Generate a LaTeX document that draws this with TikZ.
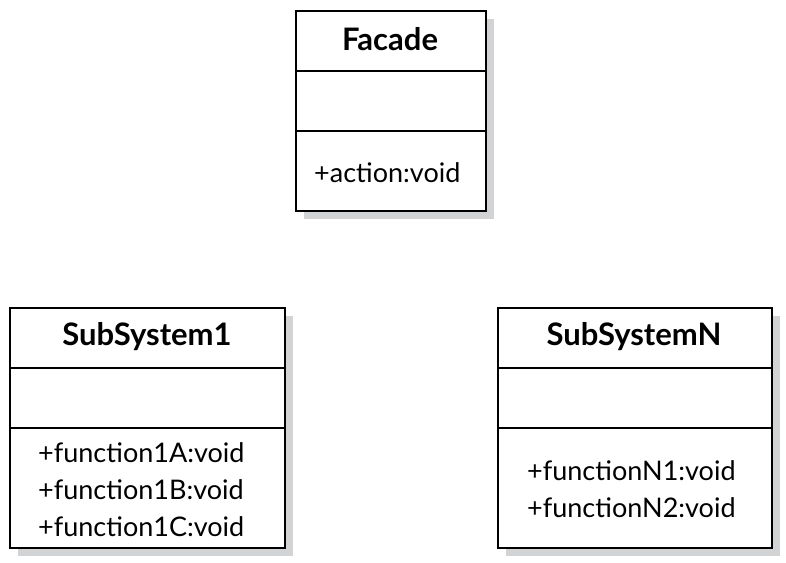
\documentclass[tikz,border=0pt]{standalone}
\usepackage{fontspec}
\setmainfont{Lato}
\usetikzlibrary{shadows}
\definecolor{shadowgray}{HTML}{D2D3D5}
\tikzset{
  classbox/.style={draw=black, line width=1.6pt, fill=white, anchor=north west,
    inner sep=0pt, drop shadow={shadow xshift=8pt, shadow yshift=-8pt, fill=shadowgray, opacity=1}},
  divider/.style={draw=black, line width=1.6pt},
  classtitle/.style={anchor=base, inner sep=0pt, font=\fontsize{31}{36}\selectfont\bfseries},
  member/.style={anchor=base west, inner sep=0pt, font=\fontsize{27}{32}\selectfont}
}
\begin{document}
\begin{tikzpicture}[x=1pt,y=-1pt]
\useasboundingbox (0,0) rectangle (786,562);
% Facade
\node[classbox, minimum width=190pt, minimum height=200pt] (facade) at (295,10) {};
\draw[divider] (facade.west |- 0,71) -- (facade.east |- 0,71);
\draw[divider] (facade.west |- 0,131) -- (facade.east |- 0,131);
\node[classtitle] (facadeT) at (390,50) {Facade};
\node[member] (facadeM) at (314,182) {+action:void};
% SubSystem1
\node[classbox, minimum width=275pt, minimum height=240pt] (sub1) at (9,307) {};
\draw[divider] (sub1.west |- 0,368) -- (sub1.east |- 0,368);
\draw[divider] (sub1.west |- 0,428) -- (sub1.east |- 0,428);
\node[classtitle] (sub1T) at (147,345) {SubSystem1};
\node[member] (sub1A) at (38,462) {+function1A:void};
\node[member] (sub1B) at (38,499) {+function1B:void};
\node[member] (sub1C) at (38,536) {+function1C:void};
% SubSystemN
\node[classbox, minimum width=274pt, minimum height=240pt] (subN) at (497,307) {};
\draw[divider] (subN.west |- 0,368) -- (subN.east |- 0,368);
\draw[divider] (subN.west |- 0,428) -- (subN.east |- 0,428);
\node[classtitle] (subNT) at (634,345) {SubSystemN};
\node[member] (subN1) at (527,480) {+functionN1:void};
\node[member] (subN2) at (527,517) {+functionN2:void};
\end{tikzpicture}
\end{document}
